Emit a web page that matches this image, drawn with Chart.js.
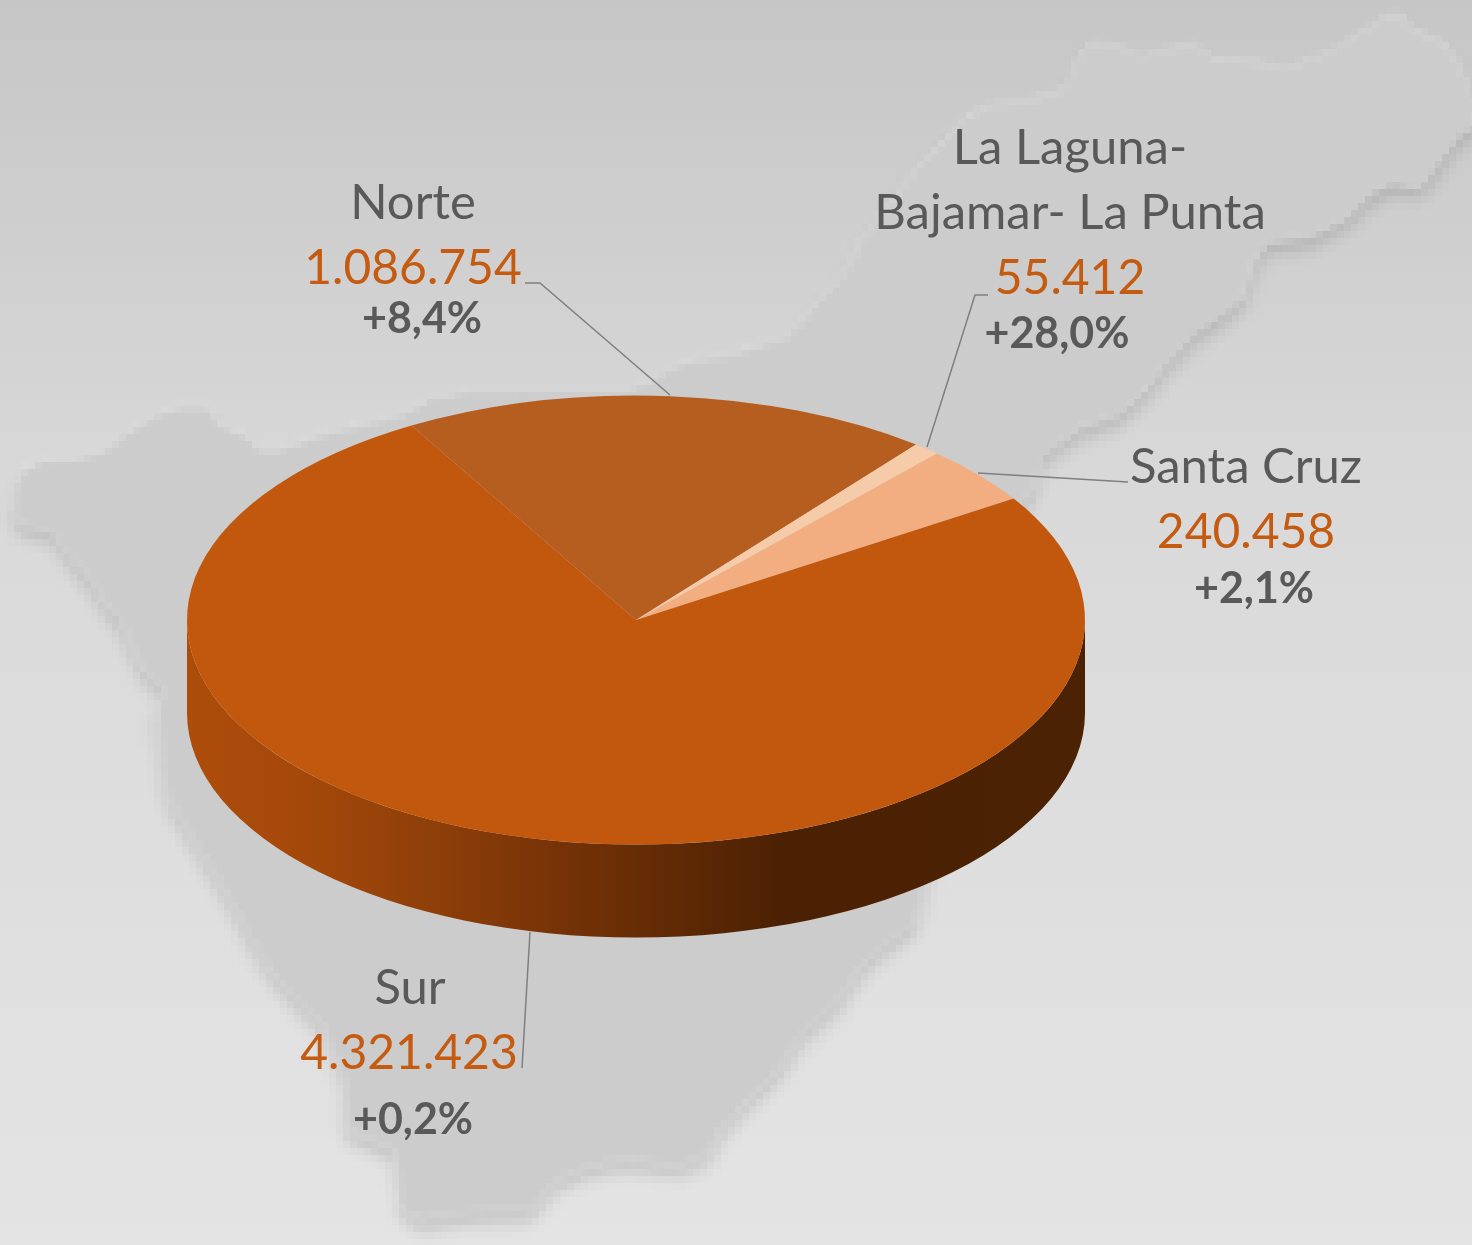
<!DOCTYPE html>
<html lang="es">
<head>
<meta charset="utf-8">
<title>Tenerife</title>
<style>
html,body{margin:0;padding:0;background:#d9d9d9;overflow:hidden}
canvas{display:block}
</style>
<script src="https://cdn.jsdelivr.net/npm/chart.js@4"></script>
</head>
<body>
<canvas id="c" width="1472" height="1245"></canvas>
<script>
const categories = ['Norte', 'La Laguna-\nBajamar- La Punta', 'Santa Cruz', 'Sur'];
const visitors = [1086754, 55412, 240458, 4321423];
const changes = ['+8,4%', '+28,0%', '+2,1%', '+0,2%'];
const sliceColors = ['#b65d20', '#f6cbaa', '#f2ae80', '#c2580e'];

const TILT = 0.5, DEPTH = 93;
const GRAY = '#595959', ORANGE = '#c55a11', LEADER = '#7f7f7f';
const LABEL_FONT = '49px Lato', NUMBER_FONT = '48px Lato', CHANGE_FONT = 'bold 43px Lato';

// text layout: [x, baseline] for name line(s), value, change
const labelLayout = [
  {name: [[413, 219]], value: [413, 284], change: [422, 333]},
  {name: [[1070, 164], [1070, 229]], value: [1070, 294], change: [1057, 348]},
  {name: [[1246, 483]], value: [1246, 548], change: [1254, 603]},
  {name: [[410, 1004]], value: [409, 1069], change: [413, 1134]}
];
const leaders = [
  [[525, 283], [540, 283], [670, 395]],
  [[988, 295], [975, 295], [927, 447]],
  [[1128, 482], [978, 473]],
  [[522, 1068], [530, 932]]
];
// decorative island silhouette behind the chart
const island = [[1400,14],[1413,30],[1445,43],[1461,67],[1472,97],[1480,125],[1461,133],[1441,160],[1421,187],[1392,183],[1372,193],[1344,220],[1312,237],[1267,243],[1255,260],[1243,297],[1219,317],[1195,333],[1167,363],[1146,390],[1118,415],[1080,428],[1060,443],[1040,457],[1035,487],[1023,502],[915,923],[890,940],[864,963],[839,1000],[803,1033],[778,1070],[747,1100],[721,1130],[709,1153],[681,1167],[624,1160],[589,1167],[553,1183],[533,1210],[461,1213],[420,1220],[400,1207],[395,1150],[346,1130],[344,1080],[323,1027],[298,1000],[272,973],[252,940],[232,903],[200,850],[170,800],[163,777],[157,713],[163,690],[140,665],[120,620],[107,607],[90,580],[67,553],[53,532],[20,525],[13,507],[15,488],[23,470],[43,460],[80,458],[107,450],[123,435],[153,417],[177,407],[210,407],[217,423],[250,437],[257,450],[277,450],[330,432],[400,415],[433,398],[470,390],[523,390],[623,390],[653,380],[670,367],[690,360],[730,355],[790,335],[820,300],[844,273],[860,243],[915,170],[945,140],[965,118],[989,105],[1033,100],[1066,88],[1072,67],[1082,52],[1090,43],[1118,45],[1142,57],[1163,50],[1191,43],[1215,58],[1259,62],[1284,68],[1328,52],[1364,30],[1384,17]];

function formatValue(v){ return String(v).replace(/\B(?=(\d{3})+$)/g, '.'); }

function islandLayer(W, H){
  const k = 7;
  const off = document.createElement('canvas');
  off.width = Math.ceil(W / k);
  off.height = Math.ceil(H / k);
  const o = off.getContext('2d');
  o.scale(1 / k, 1 / k);
  o.beginPath();
  island.forEach((p, i) => i ? o.lineTo(p[0], p[1]) : o.moveTo(p[0], p[1]));
  o.closePath();
  o.shadowColor = 'rgba(0,0,0,0.14)';
  o.shadowBlur = 2.2;
  o.shadowOffsetX = 0;
  o.shadowOffsetY = 1.6;
  o.fillStyle = '#cccccc';
  o.fill();
  o.shadowColor = 'transparent';
  o.strokeStyle = 'rgba(255,255,255,0.13)';
  o.lineWidth = 7;
  o.stroke();
  return off;
}

const scene = {
  id: 'scene',
  beforeDraw(chart){
    const c = chart.ctx, W = chart.width, H = chart.height;
    c.save();
    const g = c.createLinearGradient(0, 0, 0, H);
    g.addColorStop(0, '#c6c6c6');
    g.addColorStop(0.4, '#d9d9d9');
    g.addColorStop(1, '#e4e4e4');
    c.fillStyle = g;
    c.fillRect(0, 0, W, H);
    c.imageSmoothingEnabled = false;
    c.filter = 'blur(0.5px)';
    c.drawImage(islandLayer(W, H), 0, 0, Math.ceil(W / 7) * 7, Math.ceil(H / 7) * 7);
    c.filter = 'none';
    c.restore();
  },
  beforeDatasetsDraw(chart){
    const c = chart.ctx;
    const arcs = chart.getDatasetMeta(0).data;
    const cx = arcs[0].x, cy = arcs[0].y, R = arcs[0].outerRadius, ry = R * TILT;
    const g = c.createLinearGradient(cx - R, 0, cx + R, 0);
    g.addColorStop(0, '#ad4d0b');
    g.addColorStop(0.13, '#a4480a');
    g.addColorStop(0.27, '#8f3f09');
    g.addColorStop(0.38, '#7c3507');
    g.addColorStop(0.51, '#652c05');
    g.addColorStop(0.66, '#4c2103');
    g.addColorStop(1, '#4c2204');
    arcs.forEach(a => {
      const s = Math.max(a.startAngle, 0), e = Math.min(a.endAngle, Math.PI);
      if (e <= s) return;
      c.save();
      c.beginPath();
      c.ellipse(cx, cy, R, ry, 0, s, e);
      c.ellipse(cx, cy + DEPTH, R, ry, 0, e, s, true);
      c.closePath();
      c.fillStyle = g;
      c.fill();
      c.restore();
    });
    c.save();
    c.translate(0, cy);
    c.scale(1, TILT);
    c.translate(0, -cy);
  },
  afterDatasetsDraw(chart){
    const c = chart.ctx;
    c.restore();
    c.save();
    c.strokeStyle = LEADER;
    c.lineWidth = 1.5;
    leaders.forEach(l => {
      c.beginPath();
      l.forEach((p, i) => i ? c.lineTo(p[0], p[1]) : c.moveTo(p[0], p[1]));
      c.stroke();
    });
    c.textAlign = 'center';
    c.textBaseline = 'alphabetic';
    categories.forEach((name, i) => {
      const L = labelLayout[i];
      c.font = LABEL_FONT;
      c.fillStyle = GRAY;
      name.split('\n').forEach((line, j) => c.fillText(line, L.name[j][0], L.name[j][1]));
      c.font = NUMBER_FONT;
      c.fillStyle = ORANGE;
      c.fillText(formatValue(visitors[i]), L.value[0], L.value[1]);
      c.font = CHANGE_FONT;
      c.fillStyle = GRAY;
      c.fillText(changes[i], L.change[0], L.change[1]);
    });
    c.restore();
  }
};

new Chart(document.getElementById('c'), {
  type: 'pie',
  data: {
    labels: categories,
    datasets: [{data: visitors, backgroundColor: sliceColors, borderWidth: 0, clip: false}]
  },
  options: {
    responsive: false,
    animation: false,
    rotation: -30,
    layout: {padding: {left: 187, right: 387, top: 171, bottom: 176}},
    plugins: {legend: {display: false}, tooltip: {enabled: false}}
  },
  plugins: [scene]
});
</script>
</body>
</html>
